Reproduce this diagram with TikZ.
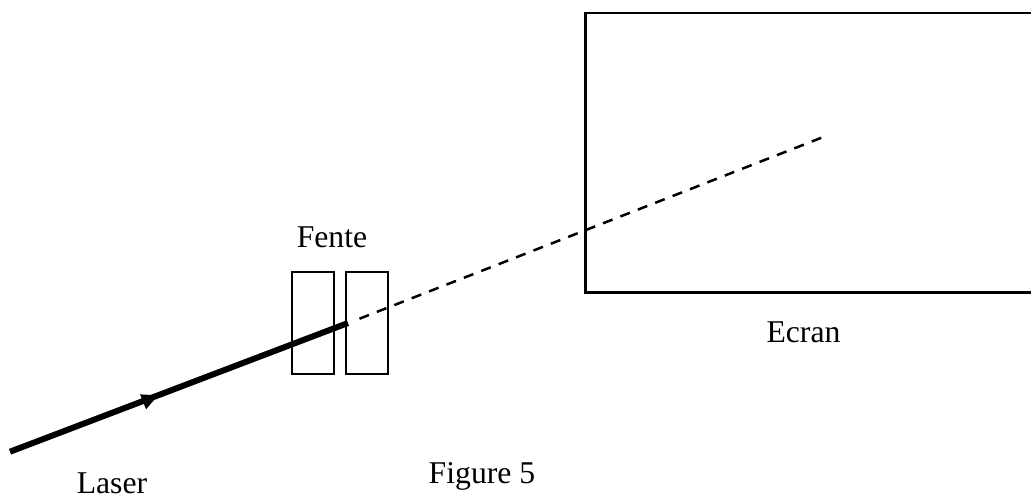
\documentclass[tikz,border=0pt]{standalone}
\usepackage{fontspec}
\setmainfont{Liberation Serif}
\usetikzlibrary{calc,positioning}
\tikzset{
  label text/.style={inner sep=0pt,anchor=base,font=\fontsize{31.7}{32}\selectfont},
  slit/.style={draw,line width=2pt,minimum width=42pt,minimum height=102pt,inner sep=0pt},
}
\begin{document}
\begin{tikzpicture}[x=1pt,y=-1pt]
  \useasboundingbox (0,0) rectangle (1031,499);
  \node[draw,line width=2.5pt,minimum width=450pt,minimum height=279.5pt,inner sep=0pt] (Ecran) at (810.5,152.5) {};
  \node[slit] (Slit_left) at (313.3,323) {};
  \node[slit] (Slit_right) at (366.8,323) {};
  \node[label text] (Fente) at (332,247) {Fente};
  \node[label text] (Ecran_label) at (803.5,342) {Ecran};
  \node[label text] (Laser) at (112,493) {Laser};
  \node[label text] (Figure) at (482,483) {Figure 5};
  \coordinate (Laser_start) at (10,451.7);
  \coordinate (Laser_end) at (348,323);
  \coordinate (Arrow_tip) at ($(Laser_start)!0.438!(Laser_end)$);
  \coordinate (Beam_start) at (359.5,318.7);
  \coordinate (Beam_end) at (822,137.5);
  %
  \draw[line width=6pt] (Laser_start) -- (Laser_end);
  \draw[line width=2.5pt,dash pattern=on 10.2pt off 8.48pt] (Beam_start) -- (Beam_end);
  \fill (Arrow_tip) -- ++(-18,-1) -- ++(6,15) -- cycle;
\end{tikzpicture}
\end{document}
